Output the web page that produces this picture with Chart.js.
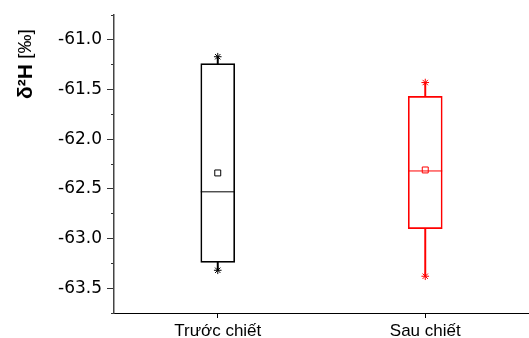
<!DOCTYPE html>
<html>
<head>
<meta charset="utf-8">
<script src="https://cdn.jsdelivr.net/npm/chart.js@4.4.1/dist/chart.umd.min.js"></script>
<style>
    body { margin: 0; background: #fff; }
    #wrap { width: 529px; height: 338px; }
</style>
</head>
<body>
<div id="wrap"><canvas id="boxChart"></canvas></div>
<script>
// Data
const groups = ['Trước chiết', 'Sau chiết'];
const q1Values = [-63.24, -62.90];
const q3Values = [-61.24, -61.57];
const medianValues = [-62.53, -62.32];
const meanValues = [-62.34, -62.31];
const minValues = [-63.32, -63.38];
const maxValues = [-61.17, -61.43];
const groupColors = ['#000000', '#ff0000'];

const yMin = -63.75;
const yMax = -60.75;

const font = 'Arial, "Liberation Sans", sans-serif';
const tickFont = '"DejaVu Sans", Arial, sans-serif';

// y title with mixed weights: bold δ²H + normal [‰]
const yTitlePlugin = {
    id: 'yTitle',
    afterDraw(chart) {
        const ctx = chart.ctx;
        const top = chart.chartArea.top;
        ctx.save();
        ctx.translate(26, top + 84);
        ctx.rotate(-Math.PI / 2);
        ctx.fillStyle = '#000';
        ctx.textBaseline = 'middle';
        ctx.textAlign = 'left';
        ctx.font = 'bold 21px ' + font;
        ctx.fillText('δ²H', 0, 0);
        const w = ctx.measureText('δ²H').width;
        ctx.font = '19px ' + font;
        ctx.fillText(' [‰]', w, 0);
        ctx.restore();
    }
};

const pairs = (a, b) => a.map((v, i) => [v, b[i]]);
const isHalfStep = v => Math.abs(v * 2 - Math.round(v * 2)) < 1e-6;

const ctx = document.getElementById('boxChart').getContext('2d');
new Chart(ctx, {
    type: 'bar',
    plugins: [yTitlePlugin],
    data: {
        labels: groups,
        datasets: [
            {
                // boxes
                data: pairs(q1Values, q3Values),
                grouped: false,
                barThickness: 34,
                backgroundColor: 'rgba(0,0,0,0)',
                borderColor: groupColors,
                borderWidth: 1,
                borderSkipped: false,
                order: 3
            },
            {
                // upper whiskers
                data: pairs(q3Values, maxValues),
                grouped: false,
                barThickness: 1.3,
                backgroundColor: groupColors,
                borderWidth: 0,
                order: 4
            },
            {
                // lower whiskers
                data: pairs(minValues, q1Values),
                grouped: false,
                barThickness: 1.3,
                backgroundColor: groupColors,
                borderWidth: 0,
                order: 4
            },
            {
                // medians
                type: 'line',
                data: medianValues,
                showLine: false,
                pointStyle: 'line',
                pointRadius: 17,
                pointBorderWidth: 1,
                pointBorderColor: groupColors,
                order: 2
            },
            {
                // means
                type: 'line',
                data: meanValues,
                showLine: false,
                pointStyle: 'rect',
                pointRadius: 4.2,
                pointBorderWidth: 1,
                pointBorderColor: groupColors,
                pointBackgroundColor: 'rgba(0,0,0,0)',
                order: 1
            },
            {
                // max markers
                type: 'line',
                data: maxValues,
                showLine: false,
                pointStyle: 'star',
                pointRadius: 3.8,
                pointBorderWidth: 1,
                pointBorderColor: groupColors,
                order: 1
            },
            {
                // min markers
                type: 'line',
                data: minValues,
                showLine: false,
                pointStyle: 'star',
                pointRadius: 3.8,
                pointBorderWidth: 1,
                pointBorderColor: groupColors,
                order: 1
            }
        ]
    },
    options: {
        responsive: true,
        maintainAspectRatio: false,
        animation: false,
        events: [],
        layout: { autoPadding: false, padding: { top: 15, right: 0, left: 0, bottom: 0 } },
        plugins: {
            legend: { display: false },
            tooltip: { enabled: false }
        },
        scales: {
            x: {
                offset: true,
                grid: { display: true, drawOnChartArea: false, offset: false, tickLength: 5, color: '#000' },
                border: { display: true, color: '#000', width: 1 },
                ticks: { color: '#000', padding: 3, font: { family: font, size: 17 } },
                afterFit: s => { s.height = 25; s.paddingLeft = 0; s.paddingRight = 0; }
            },
            y: {
                min: yMin,
                max: yMax,
                weight: 1,
                grid: { display: true, drawOnChartArea: false, tickLength: 7, color: '#333' },
                border: { display: true, color: '#444', width: 1.5 },
                ticks: {
                    stepSize: 0.25,
                    color: '#000',
                    padding: 5,
                    font: { family: tickFont, size: 17 },
                    callback: v => v.toFixed(1)
                },
                // keep only the labelled (major) ticks, every 0.5
                afterBuildTicks: s => { s.ticks = s.ticks.filter(t => isHalfStep(t.value)); },
                afterFit: s => { s.width = 114; s.paddingTop = 0; s.paddingBottom = 0; }
            },
            yMinor: {
                type: 'linear',
                position: 'left',
                min: yMin,
                max: yMax,
                weight: 0,
                grid: { display: true, drawOnChartArea: false, tickLength: 3, color: '#333' },
                border: { display: false },
                ticks: { stepSize: 0.25, display: false },
                afterFit: s => { s.width = 0; }
            }
        }
    }
});
</script>
</body>
</html>
